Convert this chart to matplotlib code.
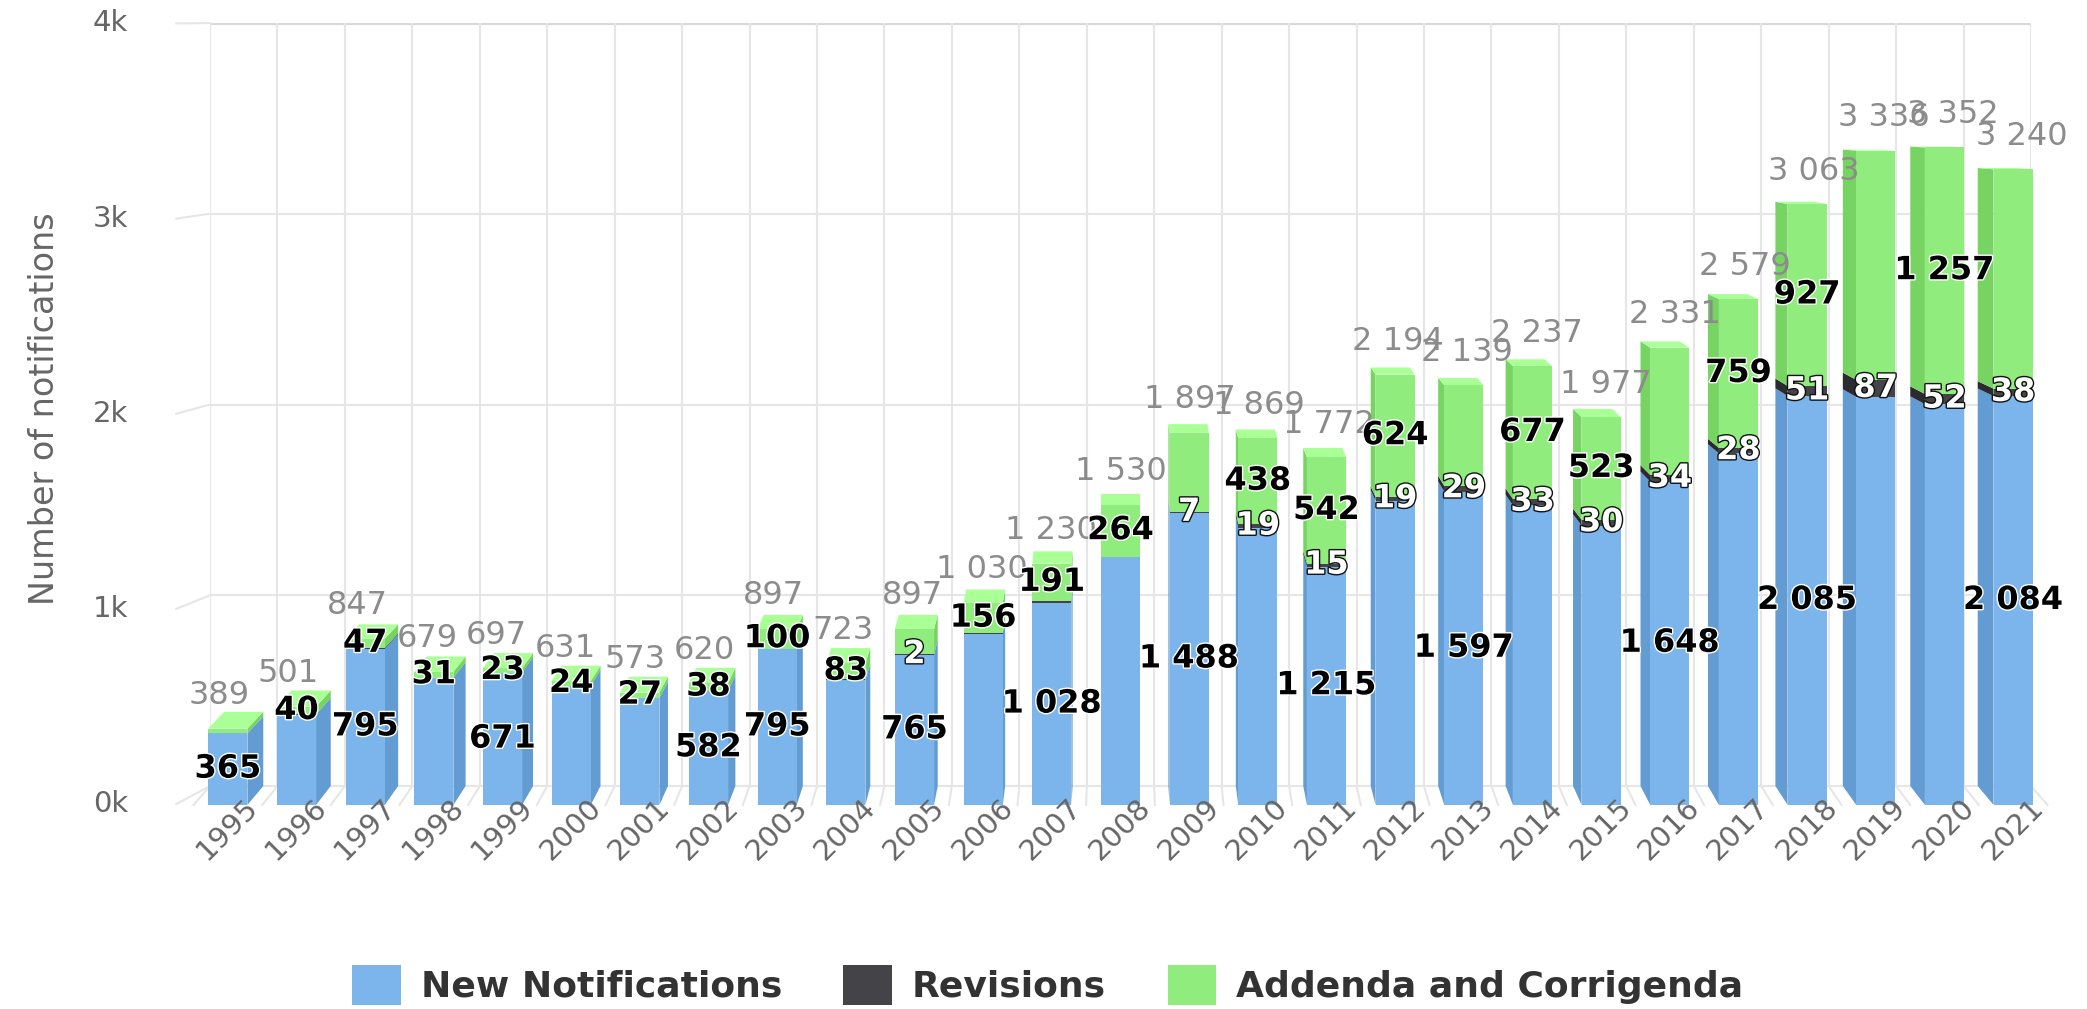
import matplotlib.pyplot as plt
from matplotlib.patches import Polygon, Patch
from matplotlib.colors import to_rgb
import matplotlib.patheffects as pe

# Datos (notificaciones por ano)
years = list(range(1995, 2022))
new_notifications = [365, 460, 795, 646, 671, 605, 545, 582, 795, 638, 765, 870, 1028,
                     1262, 1488, 1412, 1215, 1551, 1597, 1527, 1424, 1648, 1792, 2085,
                     2080, 2043, 2084]
revisions = [0, 1, 5, 2, 3, 2, 1, 0, 2, 2, 2, 4, 11, 4, 7, 19, 15, 19, 29, 33, 30, 34,
             28, 51, 87, 52, 38]
addenda = [24, 40, 47, 31, 23, 24, 27, 38, 100, 83, 130, 156, 191, 264, 402, 438, 542,
           624, 513, 677, 523, 649, 759, 927, 1169, 1257, 1118]
y_ticks = [0, 1000, 2000, 3000, 4000]

# etiquetas que el grafico original deja visibles (las demas se ocultan por solaparse)
shown_new = [1995, 1997, 1999, 2002, 2003, 2005, 2007, 2009, 2011, 2013, 2016, 2018, 2021]
shown_rev = [2005, 2009, 2010, 2011, 2012, 2013, 2014, 2015, 2016, 2017, 2018, 2019,
             2020, 2021]
shown_add = [1996, 1997, 1998, 1999, 2000, 2001, 2002, 2003, 2004, 2006, 2007, 2008,
             2010, 2011, 2012, 2014, 2015, 2017, 2018, 2020]

series = [
    ('New Notifications', new_notifications, '#7cb5ec', shown_new, 'black', 'white'),
    ('Revisions', revisions, '#434348', shown_rev, 'white', '#111111'),
    ('Addenda and Corrigenda', addenda, '#90ed7d', shown_add, 'black', 'white'),
]
totals = [sum(v) for v in zip(new_notifications, revisions, addenda)]

# parametros de la "perspectiva" 3D
n = len(years)
mid = (n - 1) / 2
half_w = 0.29
shift_x = 0.235
tilt = 0.0283
vy = 3500


def front_x(i, s=shift_x):
    return i - s * (mid - i) / mid


def front_y(y):
    return y - tilt * (vy - y)


def shade(color, amount):
    return tuple(min(1, max(0, c + amount)) for c in to_rgb(color))


def fmt(v):
    return f"{v:,}".replace(",", " ")


fig = plt.figure(figsize=(20.87, 10.09), dpi=100)
ax = fig.add_axes([210 / 2087, 0.2002, 1821 / 2087, 0.777])
ax.set_xlim(-0.5, n - 0.5)
ax.set_ylim(-110, 4000)
ax.axis('off')

grid = '#e6e6e6'
# pared del fondo
ax.hlines(y_ticks, -0.5, n - 0.5, color=grid, lw=1.5, zorder=0)
ax.hlines(4000, -0.5, n - 0.5, color='#d9d9d9', lw=3, zorder=0)
bounds = [b - 0.5 for b in range(n + 1)]
ax.vlines(bounds, 0, 4000, color=grid, lw=1.5, zorder=0)
# suelo
for b in bounds:
    ax.plot([b, front_x(b)], [0, front_y(0)], color=grid, lw=1.5, zorder=0, clip_on=False)
# pared lateral + etiquetas del eje y
for t in y_ticks:
    y_end = t - 0.023 * (4100 - t)
    ax.plot([-0.5, -1.0], [t, y_end], color=grid, lw=1.5, clip_on=False, zorder=0)
    ax.annotate(f"{t // 1000}k", xy=(-1.0, y_end), xytext=(-48, 0),
                textcoords='offset pixels', ha='right', va='center', fontsize=21,
                color='#666666', annotation_clip=False)

# columnas apiladas
for i, year in enumerate(years):
    fx = front_x(i)
    base = 0
    segs = [(name, vals[i], col) for name, vals, col, *_ in series if vals[i] > 0]
    for k, (name, v, col) in enumerate(segs):
        y0, y1 = base, base + v
        if i != mid:
            ef = fx + half_w if i < mid else fx - half_w
            eb = i + half_w if i < mid else i - half_w
            ax.add_patch(Polygon([(ef, front_y(y0)), (ef, front_y(y1)), (eb, y1), (eb, y0)],
                                 closed=True, facecolor=shade(col, -0.1), edgecolor='none',
                                 zorder=2, clip_on=False))
        if k == len(segs) - 1 and front_y(y1) < y1:
            ax.add_patch(Polygon([(fx - half_w, front_y(y1)), (fx + half_w, front_y(y1)),
                                  (i + half_w, y1), (i - half_w, y1)],
                                 closed=True, facecolor=shade(col, 0.1), edgecolor='none',
                                 zorder=2, clip_on=False))
        ax.bar(fx, front_y(y1) - front_y(y0), bottom=front_y(y0), width=2 * half_w,
               color=col, edgecolor='none', zorder=3, clip_on=False)
        base = y1

# etiquetas de cada segmento
for name, vals, col, shown, tcol, ocol in series:
    bottoms = [0] * n
    if name == 'Revisions':
        bottoms = new_notifications
    elif name == 'Addenda and Corrigenda':
        bottoms = [a + b for a, b in zip(new_notifications, revisions)]
    for i, year in enumerate(years):
        if year not in shown:
            continue
        ym = bottoms[i] + vals[i] / 2
        ax.text(front_x(i), front_y(ym), fmt(vals[i]), ha='center', va='center',
                fontsize=23, fontweight='bold', color=tcol, zorder=6,
                path_effects=[pe.withStroke(linewidth=2, foreground=ocol)])

# totales y anos
for i, (year, t) in enumerate(zip(years, totals)):
    ax.annotate(fmt(t), xy=(front_x(i, 0.37), front_y(t)), xytext=(0, 33),
                textcoords='offset pixels', ha='center', va='center', fontsize=23,
                color='#8c8c8c', zorder=5, annotation_clip=False)
    ax.annotate(str(year), xy=(front_x(i), front_y(0)), xytext=(26, 2),
                textcoords='offset pixels', ha='right', va='center', rotation=45,
                rotation_mode='anchor', fontsize=21, color='#666666',
                annotation_clip=False)

fig.text(0.0211, 0.5946, 'Number of notifications', rotation=90, ha='center',
         va='center', fontsize=24, color='#666666')

handles = [Patch(facecolor=col, edgecolor='none') for _, _, col, *_ in series]
fig.legend(handles, [s[0] for s in series], loc='center', bbox_to_anchor=(0.502, 0.024),
           ncol=3, frameon=False, prop={'weight': 'bold', 'size': 26},
           labelcolor='#333333', handlelength=1.35, handleheight=1.35,
           handletextpad=0.55, columnspacing=1.7)

plt.savefig('out.png', dpi=100)
